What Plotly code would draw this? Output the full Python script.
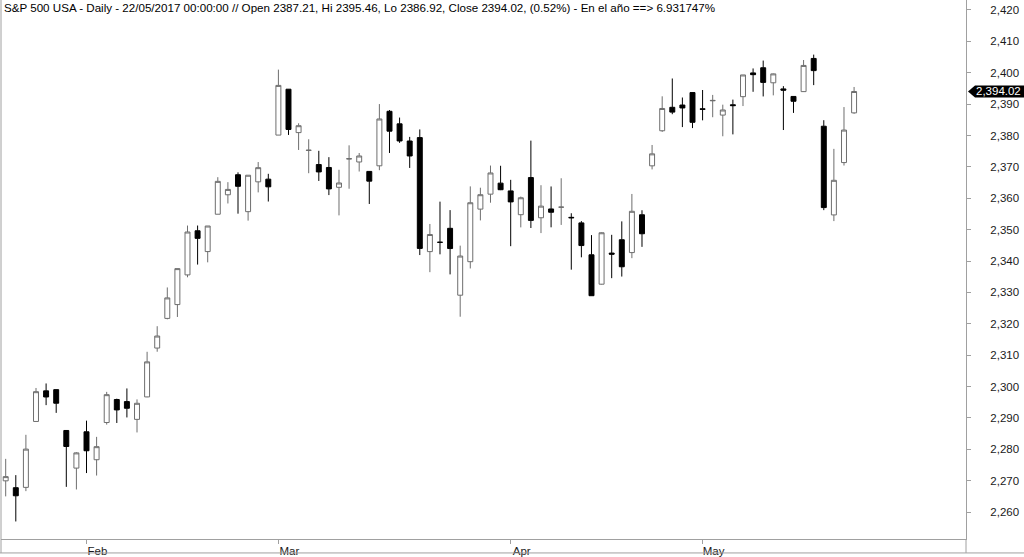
import plotly.graph_objects as go

dates = [
    "2017-01-20", "2017-01-23", "2017-01-24", "2017-01-25", "2017-01-26", "2017-01-27", "2017-01-30", "2017-01-31",
    "2017-02-01", "2017-02-02", "2017-02-03", "2017-02-06", "2017-02-07", "2017-02-08", "2017-02-09", "2017-02-10",
    "2017-02-13", "2017-02-14", "2017-02-15", "2017-02-16", "2017-02-17", "2017-02-21", "2017-02-22", "2017-02-23",
    "2017-02-24", "2017-02-27", "2017-02-28",
    "2017-03-01", "2017-03-02", "2017-03-03", "2017-03-06", "2017-03-07", "2017-03-08", "2017-03-09", "2017-03-10",
    "2017-03-13", "2017-03-14", "2017-03-15", "2017-03-16", "2017-03-17", "2017-03-20", "2017-03-21", "2017-03-22",
    "2017-03-23", "2017-03-24", "2017-03-27", "2017-03-28", "2017-03-29", "2017-03-30", "2017-03-31",
    "2017-04-03", "2017-04-04", "2017-04-05", "2017-04-06", "2017-04-07", "2017-04-10", "2017-04-11", "2017-04-12",
    "2017-04-13", "2017-04-17", "2017-04-18", "2017-04-19", "2017-04-20", "2017-04-21", "2017-04-24", "2017-04-25",
    "2017-04-26", "2017-04-27", "2017-04-28",
    "2017-05-01", "2017-05-02", "2017-05-03", "2017-05-04", "2017-05-05", "2017-05-08", "2017-05-09", "2017-05-10",
    "2017-05-11", "2017-05-12", "2017-05-15", "2017-05-16", "2017-05-17", "2017-05-18", "2017-05-19", "2017-05-22",
]

opens = [
    2269.96, 2267.78, 2267.88, 2288.88, 2298.63, 2299.02, 2286.01, 2274.02,
    2285.59, 2276.69, 2288.54, 2295.87, 2295.21, 2289.55, 2296.70, 2312.27,
    2321.72, 2326.12, 2335.58, 2349.64, 2343.01, 2354.91, 2361.11, 2367.50,
    2355.73, 2365.23, 2366.08,
    2380.13, 2394.75, 2380.92, 2375.23, 2370.74, 2369.81, 2363.49, 2372.52,
    2371.56, 2368.55, 2370.34, 2387.71, 2383.71, 2378.24, 2379.32, 2343.00,
    2345.97, 2350.42, 2329.11, 2339.79, 2356.54, 2361.31, 2364.82,
    2362.34, 2354.76, 2366.59, 2353.79, 2356.59, 2357.16, 2353.92, 2352.15,
    2341.98, 2332.62, 2342.53, 2346.79, 2342.69, 2354.74, 2370.33, 2381.51,
    2388.98, 2389.70, 2393.68,
    2388.50, 2391.05, 2386.50, 2389.79, 2392.37, 2399.94, 2401.58, 2396.79,
    2394.84, 2392.44, 2393.98, 2404.55, 2382.95, 2354.69, 2371.37, 2387.21,
]

highs = [
    2276.96, 2271.78, 2284.63, 2299.55, 2300.99, 2299.02, 2286.01, 2279.09,
    2289.14, 2283.97, 2298.31, 2296.14, 2299.40, 2295.91, 2311.08, 2319.23,
    2331.58, 2337.58, 2351.30, 2351.31, 2351.16, 2366.71, 2365.13, 2368.26,
    2367.34, 2371.54, 2367.79,
    2400.98, 2394.75, 2383.89, 2378.80, 2375.12, 2373.09, 2369.08, 2376.86,
    2374.42, 2368.55, 2390.01, 2388.10, 2385.71, 2379.55, 2381.93, 2351.81,
    2358.92, 2356.22, 2344.90, 2363.78, 2363.36, 2370.42, 2370.35,
    2365.87, 2360.53, 2378.36, 2364.16, 2363.76, 2366.37, 2355.22, 2352.72,
    2348.26, 2349.14, 2348.35, 2352.63, 2361.37, 2356.18, 2376.98, 2392.48,
    2398.16, 2392.10, 2393.68,
    2394.49, 2392.93, 2389.82, 2391.43, 2399.29, 2401.36, 2403.87, 2399.74,
    2395.72, 2392.44, 2404.05, 2405.77, 2384.87, 2375.74, 2389.06, 2395.46,
]

lows = [
    2265.01, 2257.02, 2266.68, 2288.88, 2294.08, 2291.62, 2268.04, 2267.21,
    2272.44, 2271.65, 2287.88, 2288.40, 2290.16, 2285.38, 2296.61, 2311.10,
    2321.42, 2322.17, 2334.81, 2338.87, 2339.58, 2354.91, 2358.34, 2355.09,
    2352.87, 2361.87, 2358.96,
    2380.13, 2380.17, 2375.39, 2367.98, 2365.51, 2361.01, 2354.54, 2363.04,
    2368.52, 2358.18, 2368.94, 2374.43, 2377.64, 2369.66, 2341.90, 2336.45,
    2342.13, 2335.74, 2322.25, 2337.63, 2352.94, 2358.58, 2362.60,
    2344.73, 2350.72, 2350.52, 2348.90, 2350.74, 2351.50, 2337.25, 2341.18,
    2328.95, 2332.51, 2334.54, 2335.05, 2340.91, 2344.51, 2369.19, 2381.15,
    2386.78, 2382.68, 2382.36,
    2384.83, 2385.82, 2379.75, 2380.35, 2389.38, 2393.92, 2392.44, 2392.79,
    2381.74, 2387.19, 2393.94, 2396.05, 2356.21, 2352.72, 2370.43, 2386.92,
]

closes = [
    2271.31, 2265.20, 2280.07, 2298.37, 2296.68, 2294.69, 2280.90, 2278.87,
    2279.55, 2280.85, 2297.42, 2292.56, 2293.08, 2294.67, 2307.87, 2316.10,
    2328.25, 2337.58, 2349.25, 2347.22, 2351.16, 2365.38, 2362.82, 2363.81,
    2367.34, 2369.75, 2363.64,
    2395.96, 2381.92, 2383.12, 2375.31, 2368.39, 2362.98, 2364.87, 2372.60,
    2373.47, 2365.45, 2385.26, 2381.38, 2378.25, 2373.47, 2344.02, 2348.45,
    2345.96, 2343.98, 2341.59, 2358.57, 2361.13, 2368.06, 2362.72,
    2358.84, 2360.16, 2352.95, 2357.49, 2355.54, 2357.16, 2353.78, 2344.93,
    2328.95, 2349.01, 2342.19, 2338.17, 2355.84, 2348.69, 2374.15, 2388.61,
    2387.45, 2388.77, 2384.20,
    2388.33, 2391.17, 2388.13, 2389.52, 2399.29, 2399.38, 2396.92, 2399.63,
    2394.44, 2390.90, 2402.32, 2400.67, 2357.03, 2365.72, 2381.73, 2394.02,
]

month_labels = ["Feb", "Mar", "Apr", "May"]
title_text = ("S&P 500 USA - Daily - 22/05/2017 00:00:00 // Open 2387.21, Hi 2395.46, "
              "Lo 2386.92, Close 2394.02, (0.52%) - En el año ==> 6.931747%")
last_close = closes[-1]
last_label = "2,394.02"

# ---- layout geometry ----
W, H = 1024, 557
ML, MR, MT, MB = 1, 58, 0, 16
PW = W - ML - MR
PH = H - MT - MB
Y_RANGE = [2251.43, 2423.17]
X_RANGE = [-0.465, 95.08]

FONT = "Liberation Sans, Arial, sans-serif"
LINE_GRAY = "#a0a0a0"

idx = list(range(len(dates)))

# first trading day of each month (after the first)
tickvals = []
prev_month = dates[0][5:7]
for i, d in enumerate(dates):
    m = d[5:7]
    if m != prev_month:
        tickvals.append(i)
        prev_month = m

fig = go.Figure()
fig.add_trace(go.Candlestick(
    x=idx, open=opens, high=highs, low=lows, close=closes,
    increasing=dict(line=dict(color="#6e6e6e", width=1), fillcolor="#ffffff"),
    decreasing=dict(line=dict(color="#000000", width=1), fillcolor="#000000"),
    whiskerwidth=0,
    showlegend=False,
    hoverinfo="skip",
))

fig.update_layout(
    width=W, height=H,
    margin=dict(l=ML, r=MR, t=MT, b=MB, pad=0),
    paper_bgcolor="white", plot_bgcolor="white",
    font=dict(family=FONT, size=12, color="#1a1a1a"),
    showlegend=False,
    xaxis=dict(
        range=X_RANGE, showgrid=False, zeroline=False,
        rangeslider=dict(visible=False),
        tickmode="array", tickvals=tickvals, ticktext=month_labels,
        ticks="outside", ticklen=4, tickcolor=LINE_GRAY, tickwidth=1,
        showline=True, linecolor=LINE_GRAY, linewidth=1,
        tickfont=dict(family=FONT, size=11.5, color="#1a1a1a"),
        ticklabelshift=11, ticklabelstandoff=-3,
        fixedrange=True,
    ),
    yaxis=dict(
        range=Y_RANGE, side="right", showgrid=False, zeroline=False,
        dtick=10, tick0=2260, tickformat=",d",
        ticks="outside", ticklen=4, tickcolor=LINE_GRAY, tickwidth=1,
        showline=True, linecolor=LINE_GRAY, linewidth=1,
        tickfont=dict(family=FONT, size=11.5, color="#1a1a1a"),
        ticklabelstandoff=17,
        fixedrange=True,
    ),
)

def px_x(p):
    return (p - ML) / PW

def px_y(p):
    return (MT + PH - p) / PH

shapes = [
    # left border
    dict(type="line", xref="paper", yref="paper", x0=px_x(1), x1=px_x(1), y0=1, y1=px_y(555),
         line=dict(color=LINE_GRAY, width=1)),
    # right axis extension down to bottom
    dict(type="line", xref="paper", yref="paper", x0=1, x1=1, y0=0, y1=px_y(555),
         line=dict(color=LINE_GRAY, width=1)),
    # bottom border
    dict(type="line", xref="paper", yref="paper", x0=px_x(0), x1=px_x(1024), y0=px_y(555), y1=px_y(555),
         line=dict(color=LINE_GRAY, width=1)),
]

# last price tag (arrow-shaped)
yp = (last_close - Y_RANGE[0]) / (Y_RANGE[1] - Y_RANGE[0])
shapes.append(dict(
    type="path", xref="paper", yref="paper",
    xsizemode="pixel", ysizemode="pixel", xanchor=1, yanchor=yp,
    path="M 2 0 L 9 6 L 60 6 L 60 -6 L 9 -6 Z",
    fillcolor="#000000", line=dict(width=0), layer="above",
))
fig.update_layout(shapes=shapes)

fig.add_annotation(
    xref="paper", yref="paper", x=px_x(975), y=yp, xanchor="left", yanchor="middle",
    text=last_label, showarrow=False, font=dict(family=FONT, size=11.5, color="#ffffff"),
    borderpad=0,
)
fig.add_annotation(
    xref="paper", yref="paper", x=px_x(3), y=px_y(8), xanchor="left", yanchor="middle",
    text=title_text.replace("&", "&amp;"), showarrow=False,
    font=dict(family=FONT, size=11.6, color="#000000"),
    borderpad=0,
)

fig.write_html(
    "out.html",
    config={"displayModeBar": False},
    post_script="document.body.style.margin='0';document.body.style.overflow='hidden';",
)
